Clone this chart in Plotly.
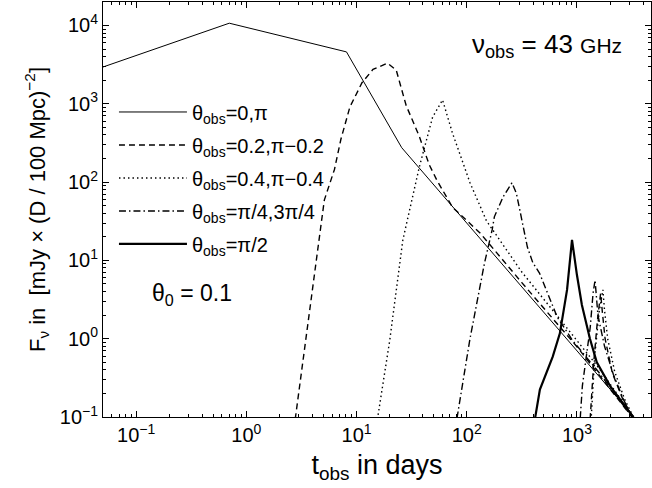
import plotly.graph_objects as go

# ---- data ----
t_th0 = [0.05, 0.7, 8.1, 25.7, 3300]
F_th0 = [2950, 10700, 4600, 275, 0.1]

t_th02 = [2.7, 4.6, 5.1, 6.3, 7.2, 8.7, 11.2, 14.1, 19.1, 22.9, 28.2, 37.2, 45.7, 53.7, 74, 132, 316, 1000, 3160]
F_th02 = [0.07, 18, 59, 145, 350, 910, 1860, 2750, 3300, 2700, 950, 380, 166, 105, 48, 22.4, 5.2, 0.79, 0.1]
t_th02_cj = [1300, 1420, 1540, 1640, 1700, 1800, 2100, 2600, 3200]
F_th02_cj = [0.07, 0.5, 1.8, 3.8, 2.2, 1.0, 0.36, 0.17, 0.1]

t_th04 = [14.8, 20, 26.3, 37.2, 49, 60.3, 74, 107, 151, 200, 316, 708, 1000, 1585, 3240]
F_th04 = [0.063, 0.95, 18.2, 158, 676, 1120, 427, 98, 32, 17.8, 7.1, 1.74, 0.95, 0.42, 0.1]
t_th04_cj = [1330, 1450, 1590, 1720, 1780, 1900, 2200, 2700, 3250]
F_th04_cj = [0.07, 0.6, 2.2, 4.2, 2.3, 1.0, 0.38, 0.17, 0.1]

t_thq = [77.6, 107, 145, 170, 178, 214, 257, 282, 302, 324, 355, 398, 457, 661, 912, 1585, 3160]
F_thq = [0.063, 1.0, 9.3, 24.5, 36, 65, 98, 72, 45, 27, 14.8, 9.3, 6.9, 1.9, 0.95, 0.37, 0.1]
t_thq_cj = [1050, 1120, 1320, 1400, 1460, 1550, 1780, 2140, 2630, 3160]
F_thq_cj = [0.063, 0.25, 1.4, 3.8, 5.6, 2.0, 0.8, 0.35, 0.17, 0.1]

t_th90 = [407, 461, 603, 700, 813, 902, 1000, 1109, 1312, 1514, 1995, 2630, 3240]
F_th90 = [0.079, 0.224, 0.59, 1.17, 4.2, 18.3, 6.5, 2.7, 1.0, 0.5, 0.25, 0.15, 0.1]

labels = ["θ<sub>obs</sub>=0,π", "θ<sub>obs</sub>=0.2,π−0.2", "θ<sub>obs</sub>=0.4,π−0.4",
          "θ<sub>obs</sub>=π/4,3π/4", "θ<sub>obs</sub>=π/2"]

x_tickvals = [0.1, 1, 10, 100, 1000]
x_ticktext = ["10<sup>−1</sup>", "10<sup>0</sup>", "10<sup>1</sup>", "10<sup>2</sup>", "10<sup>3</sup>"]
y_tickvals = [0.1, 1, 10, 100, 1000, 10000]
y_ticktext = ["10<sup>−1</sup>", "10<sup>0</sup>", "10<sup>1</sup>", "10<sup>2</sup>", "10<sup>3</sup>", "10<sup>4</sup>"]

FONT = "Liberation Sans, Arial, Helvetica, sans-serif"

def join(a, b):
    return a + [None] + b

series = [
    (t_th0, F_th0, dict(color="black", width=1), labels[0]),
    (join(t_th02, t_th02_cj), join(F_th02, F_th02_cj), dict(color="black", width=1.4, dash="6px,4px"), labels[1]),
    (join(t_th04, t_th04_cj), join(F_th04, F_th04_cj), dict(color="black", width=1.4, dash="1.5px,3px"), labels[2]),
    (join(t_thq, t_thq_cj), join(F_thq, F_thq_cj), dict(color="black", width=1.4, dash="7px,3px,1.5px,3px"), labels[3]),
    (t_th90, F_th90, dict(color="black", width=2.2), labels[4]),
]

fig = go.Figure()
for i, (t, F, line, name) in enumerate(series):
    fig.add_trace(go.Scatter(x=t, y=F, mode="lines", line=line, name=name,
                             legendgroup=f"g{i}", connectgaps=False))

minor_x = [m * 10 ** e for e in range(-2, 4) for m in range(2, 10)]
minor_y = [m * 10 ** e for e in range(-1, 5) for m in range(2, 10)]

axis_common = dict(showline=True, linecolor="black", linewidth=1, mirror="ticks",
                   ticks="inside", ticklen=6, tickcolor="black", showgrid=False,
                   zeroline=False, tickfont=dict(family=FONT, size=20, color="black"))

fig.update_xaxes(type="log", range=[-1.301, 3.672], tickmode="array",
                 tickvals=x_tickvals, ticktext=x_ticktext,
                 minor=dict(tickmode="array", tickvals=minor_x, ticks="inside", ticklen=3, tickcolor="black", showgrid=False),
                 title=dict(text="t<sub>obs</sub> in days", font=dict(family=FONT, size=27, color="black"), standoff=10),
                 **axis_common)
fig.update_yaxes(type="log", range=[-1, 4.3], tickmode="array",
                 tickvals=y_tickvals, ticktext=y_ticktext,
                 minor=dict(tickmode="array", tickvals=minor_y, ticks="inside", ticklen=3, tickcolor="black", showgrid=False),
                 title=dict(text="F<sub>ν</sub> in  [mJy × (D / 100 Mpc)<sup>−2</sup>]", font=dict(family=FONT, size=22, color="black"), standoff=8),
                 **axis_common)

fig.add_annotation(xref="paper", yref="paper", x=0.67, y=0.895, xanchor="left", yanchor="middle",
                   text="ν<sub>obs</sub> = 43 <span style='font-size:21px'>GHz</span>",
                   showarrow=False, font=dict(family=FONT, size=26, color="black"))
fig.add_annotation(xref="paper", yref="paper", x=0.085, y=0.295, xanchor="left", yanchor="middle",
                   text="θ<sub>0</sub> = 0.1", showarrow=False,
                   font=dict(family=FONT, size=23, color="black"))

fig.update_layout(
    width=652, height=488,
    margin=dict(l=103, r=1, t=2, b=71),
    paper_bgcolor="white", plot_bgcolor="white",
    showlegend=True,
    legend=dict(x=0.02, y=0.782, xanchor="left", yanchor="top",
                bgcolor="rgba(0,0,0,0)", borderwidth=0,
                font=dict(family=FONT, size=20, color="black"),
                tracegroupgap=4, itemwidth=68),
)

fig.write_html("out.html", config={"displayModeBar": False},
               post_script="document.body.style.margin='0px';document.body.style.overflow='hidden';")
